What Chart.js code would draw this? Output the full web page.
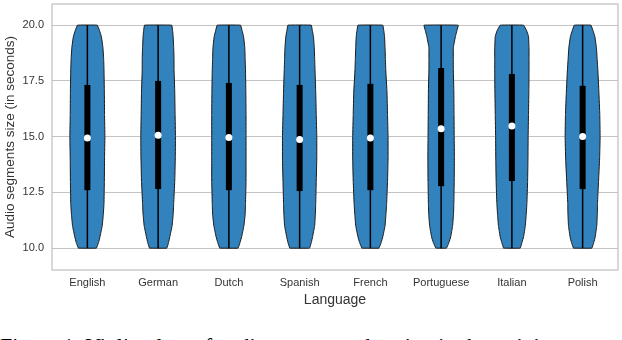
<!DOCTYPE html>
<html>
<head>
<meta charset="utf-8">
<script src="https://cdn.jsdelivr.net/npm/chart.js@4.4.0/dist/chart.umd.min.js"></script>
<style>
    html, body { margin: 0; padding: 0; background: #fff; }
    body { width: 622px; height: 340px; overflow: hidden; position: relative; }
    #chart-box { position: absolute; left: 0; top: 0; width: 622px; height: 310px; }
    #caption { position: absolute; left: 0; top: 335px; font: 22px/22px "Liberation Serif", serif; white-space: nowrap; color: #000; }
</style>
</head>
<body>
<div id="chart-box"><canvas id="chart"></canvas></div>
<div id="caption">Figure 1: Violin plots of audio segments duration in the training set</div>
<script>
const languages = ['English', 'German', 'Dutch', 'Spanish', 'French', 'Portuguese', 'Italian', 'Polish'];

const densityLevels = [10, 10.25, 10.5, 11, 11.5, 12, 13, 14, 15, 16, 17, 18, 18.5, 19, 19.5, 19.75, 20];

// relative density at each level (1 = widest violin)
const densityEnglish    = [0.51, 0.63, 0.71, 0.84, 0.90, 0.94, 0.96, 0.97, 0.99, 0.97, 0.96, 0.94, 0.92, 0.88, 0.79, 0.69, 0.56];
const densityGerman     = [0.49, 0.59, 0.66, 0.79, 0.85, 0.88, 0.94, 0.97, 0.98, 0.96, 0.94, 0.90, 0.90, 0.88, 0.85, 0.82, 0.77];
const densityDutch      = [0.52, 0.63, 0.72, 0.85, 0.92, 0.94, 0.97, 0.97, 0.97, 0.97, 0.96, 0.94, 0.92, 0.90, 0.83, 0.75, 0.66];
const densitySpanish    = [0.56, 0.66, 0.73, 0.85, 0.89, 0.91, 0.94, 0.97, 0.97, 0.94, 0.91, 0.87, 0.85, 0.83, 0.78, 0.72, 0.66];
const densityFrench     = [0.48, 0.61, 0.70, 0.83, 0.88, 0.92, 0.97, 1.00, 1.00, 0.97, 0.94, 0.87, 0.85, 0.83, 0.80, 0.76, 0.70];
const densityPortuguese = [0.30, 0.44, 0.54, 0.65, 0.70, 0.72, 0.74, 0.75, 0.74, 0.73, 0.72, 0.69, 0.69, 0.69, 0.81, 0.89, 0.97];
const densityItalian    = [0.47, 0.57, 0.66, 0.76, 0.81, 0.85, 0.89, 0.91, 0.92, 0.94, 0.96, 0.97, 0.97, 0.97, 0.94, 0.84, 0.66];
const densityPolish     = [0.52, 0.63, 0.71, 0.80, 0.83, 0.84, 0.90, 0.96, 0.99, 0.97, 0.92, 0.86, 0.82, 0.78, 0.69, 0.59, 0.47];
const densities = [densityEnglish, densityGerman, densityDutch, densitySpanish, densityFrench, densityPortuguese, densityItalian, densityPolish];

// box stats (seconds)
const segMin  = [10, 10, 10, 10, 10, 10, 10, 10];
const segMax  = [20, 20, 20, 20, 20, 20, 20, 20];
const q1      = [12.60, 12.65, 12.60, 12.56, 12.60, 12.78, 13.01, 12.65];
const medians = [14.94, 15.06, 14.96, 14.87, 14.94, 15.36, 15.48, 15.01];
const q3      = [17.32, 17.50, 17.41, 17.32, 17.37, 18.08, 17.81, 17.28];

const yTickValues = [10, 12.5, 15, 17.5, 20];

const ViolinColor = '#3182bd';
const EdgeColor = '#1a1a1a';
const TextColor = '#333333';
const GridColor = '#c4c4c4';
const halfWidth = 0.25; // widest violin half-width, in category units

function violinPoints(i) {
    const dens = densities[i];
    const left = densityLevels.map((y, k) => ({x: i - dens[k] * halfWidth, y: y}));
    const right = densityLevels.map((y, k) => ({x: i + dens[k] * halfWidth, y: y})).reverse();
    // close the outline at the bottom
    return left.concat(right, [left[0]]);
}

const datasets = [];
languages.forEach((lang, i) => {
    datasets.push({
        label: lang + ' violin',
        data: violinPoints(i),
        fill: 'shape',
        backgroundColor: ViolinColor,
        borderColor: EdgeColor,
        borderWidth: 1,
        pointRadius: 0,
        tension: 0.05, // non-zero so the unsorted outline isn't drawn with the fast path
        order: 4
    });
    datasets.push({
        label: lang + ' range',
        data: [{x: i, y: segMin[i]}, {x: i, y: segMax[i]}],
        borderColor: '#000',
        borderWidth: 1.5,
        pointRadius: 0,
        fill: false,
        order: 3
    });
    datasets.push({
        label: lang + ' iqr',
        data: [{x: i, y: q1[i]}, {x: i, y: q3[i]}],
        borderColor: '#000',
        borderWidth: 6,
        borderCapStyle: 'butt',
        pointRadius: 0,
        fill: false,
        order: 2
    });
    datasets.push({
        label: lang + ' median',
        data: [{x: i, y: medians[i]}],
        showLine: false,
        pointRadius: 3.5,
        pointBackgroundColor: '#fff',
        pointBorderColor: '#fff',
        pointBorderWidth: 0,
        fill: false,
        order: 1
    });
});

// grey box round the plot area
const framePlugin = {
    id: 'frame',
    beforeDatasetsDraw(chart) {
        const {ctx, chartArea} = chart;
        ctx.save();
        ctx.strokeStyle = GridColor;
        ctx.lineWidth = 1.3;
        ctx.strokeRect(chartArea.left, chartArea.top, chartArea.width, chartArea.height);
        ctx.restore();
    }
};

const fontFamily = '"Liberation Sans", Arial, sans-serif';

new Chart(document.getElementById('chart'), {
    type: 'line',
    data: { datasets: datasets },
    options: {
        responsive: true,
        maintainAspectRatio: false,
        animation: false,
        layout: { padding: { top: 3, right: 1, left: 0, bottom: 0 } },
        plugins: {
            legend: { display: false },
            tooltip: { enabled: false }
        },
        scales: {
            x: {
                type: 'linear',
                min: -0.5,
                max: 7.5,
                afterBuildTicks: scale => { scale.ticks = languages.map((l, i) => ({value: i})); },
                afterFit: scale => {
                    scale.height = 40;
                    scale.paddingLeft = 0;
                    scale.paddingRight = 0;
                },
                ticks: {
                    autoSkip: false,
                    maxRotation: 0,
                    padding: 6,
                    color: TextColor,
                    font: { family: fontFamily, size: 11 },
                    callback: value => languages[value]
                },
                grid: { display: false, drawTicks: false },
                border: { display: false },
                title: {
                    display: true,
                    text: 'Language',
                    color: TextColor,
                    font: { family: fontFamily, size: 14 },
                    padding: { top: 0, bottom: 1 }
                }
            },
            y: {
                type: 'linear',
                min: 9.02,
                max: 20.95,
                afterBuildTicks: scale => { scale.ticks = yTickValues.map(v => ({value: v})); },
                afterFit: scale => {
                    scale.width = 52;
                    scale.paddingTop = 0;
                    scale.paddingBottom = 0;
                },
                ticks: {
                    padding: 8,
                    color: TextColor,
                    font: { family: fontFamily, size: 11 },
                    callback: value => value.toFixed(1)
                },
                grid: { color: GridColor, lineWidth: 1, drawTicks: false },
                border: { display: false },
                title: {
                    display: true,
                    text: 'Audio segments size (in seconds)',
                    color: TextColor,
                    font: { family: fontFamily, size: 13.5 },
                    padding: { top: 2, bottom: 0 }
                }
            }
        }
    },
    plugins: [framePlugin]
});
</script>
</body>
</html>
